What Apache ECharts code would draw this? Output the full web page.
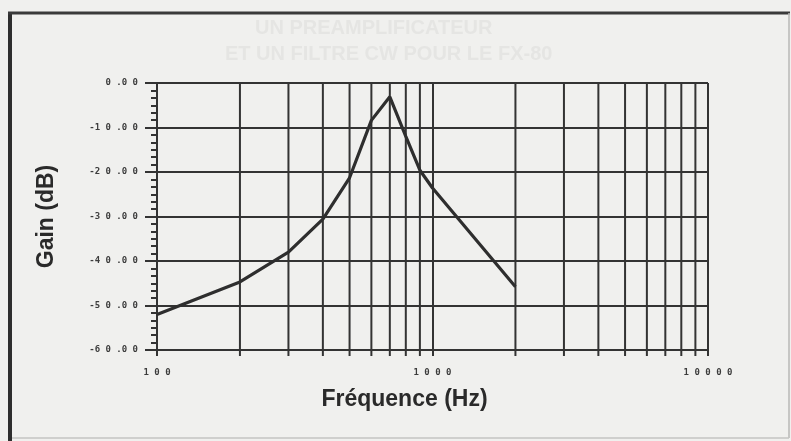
<!DOCTYPE html>
<html>
<head>
<meta charset="utf-8">
<script src="https://cdn.jsdelivr.net/npm/echarts@6/dist/echarts.min.js"></script>
<style>
  html, body { margin: 0; padding: 0; background: #efefed; }
  #main { width: 791px; height: 441px; }
</style>
</head>
<body>
<div id="main"></div>
<script>
var chartDom = document.getElementById('main');
var myChart = echarts.init(chartDom);

// measured points (Hz, dB)
var freqs = [100, 200, 300, 400, 500, 600, 700, 800, 900, 1000, 2000];
var gains = [-52, -44.7, -38, -30.6, -21.3, -8.4, -3.1, -12, -19.6, -23.6, -45.8];

// intermediate log grid lines
var minorFreqs = [200, 300, 400, 500, 600, 700, 800, 900,
                  2000, 3000, 4000, 5000, 6000, 7000, 8000, 9000];

var yMin = -60;
var yMax = 0;

var ink = '#333333';

function spaced(s) {
    // old plotter font: wide tracking between characters
    var out = '';
    for (var i = 0; i < s.length; i++) {
        out += s[i];
        if (i < s.length - 1 && s[i] != '-' && s[i] != '.') out += ' ';
    }
    return out;
}

var lineData = freqs.map(function (f, i) { return [f, gains[i]]; });
var minorData = minorFreqs.map(function (f) { return [f]; });

var option = {
    backgroundColor: '#f0f0ee',
    animation: false,
    grid: { left: 157, right: 83, top: 83, bottom: 91 },
    xAxis: {
        type: 'log',
        logBase: 10,
        min: 100,
        max: 10000,
        name: 'Fréquence (Hz)',
        nameLocation: 'middle',
        nameGap: 38,
        nameTextStyle: {
            fontFamily: 'Liberation Sans',
            fontWeight: 'bold',
            fontSize: 23,
            color: '#2a2a2a',
            padding: [0, 56, 0, 0]
        },
        axisLine: { show: true, onZero: false, lineStyle: { color: ink, width: 2 } },
        axisTick: { show: true, length: 6, lineStyle: { color: ink, width: 2 } },
        minorTick: { show: false },
        splitLine: { show: true, lineStyle: { color: ink, width: 2 } },
        axisLabel: {
            margin: 18,
            fontFamily: 'DejaVu Sans Mono',
            fontSize: 9,
            fontWeight: 'bold',
            color: '#3c3c3c',
            formatter: function (v) { return spaced(String(v)); }
        }
    },
    yAxis: {
        type: 'value',
        min: yMin,
        max: yMax,
        interval: 10,
        name: 'Gain (dB)',
        nameLocation: 'middle',
        nameGap: 99,
        nameRotate: 90,
        nameTextStyle: {
            fontFamily: 'Liberation Sans',
            fontWeight: 'bold',
            fontSize: 23,
            color: '#2a2a2a'
        },
        axisLine: { show: true, lineStyle: { color: ink, width: 2 } },
        axisTick: { show: true, length: 12, lineStyle: { color: ink, width: 2 } },
        minorTick: { show: true, splitNumber: 6, length: 6, lineStyle: { color: ink, width: 2 } },
        splitLine: { show: true, lineStyle: { color: ink, width: 2 } },
        axisLabel: {
            margin: 19,
            fontFamily: 'DejaVu Sans Mono',
            fontSize: 9,
            fontWeight: 'bold',
            color: '#3c3c3c',
            formatter: function (v) { return spaced(v.toFixed(2)); }
        }
    },
    graphic: [
        // faint show-through from the back of the page
        { type: 'text', left: 255, top: 18, silent: true,
          style: { text: 'UN PREAMPLIFICATEUR', font: 'bold 20px Liberation Sans', fill: '#e5e5e3' } },
        { type: 'text', left: 225, top: 44, silent: true,
          style: { text: 'ET UN FILTRE CW POUR LE FX-80', font: 'bold 20px Liberation Sans', fill: '#e5e5e3' } },
        // frame of the figure
        { type: 'line', silent: true, shape: { x1: 10, y1: 12, x2: 10, y2: 441 },
          style: { stroke: '#2e2e2e', lineWidth: 4 } },
        { type: 'line', silent: true, shape: { x1: 8, y1: 13, x2: 790, y2: 13 },
          style: { stroke: '#3a3a3a', lineWidth: 3 } },
        { type: 'line', silent: true, shape: { x1: 789, y1: 13, x2: 789, y2: 438 },
          style: { stroke: '#b8b8b6', lineWidth: 1.5 } },
        { type: 'line', silent: true, shape: { x1: 12, y1: 438, x2: 789, y2: 438 },
          style: { stroke: '#c4c4c2', lineWidth: 1.5 } }
    ],
    series: [
        {
            // log-cycle grid lines with their small ticks under the axis
            type: 'custom',
            silent: true,
            data: minorData,
            encode: { x: 0 },
            renderItem: function (params, api) {
                var top = api.coord([api.value(0), yMax]);
                var bot = api.coord([api.value(0), yMin]);
                return {
                    type: 'line',
                    shape: { x1: top[0], y1: top[1], x2: bot[0], y2: bot[1] + 6 },
                    style: { stroke: ink, lineWidth: 2 }
                };
            },
            z: 1
        },
        {
            type: 'line',
            data: lineData,
            symbol: 'none',
            smooth: false,
            lineStyle: { color: '#2e2e2e', width: 3.2 },
            z: 5
        }
    ]
};

option && myChart.setOption(option);
</script>
</body>
</html>
